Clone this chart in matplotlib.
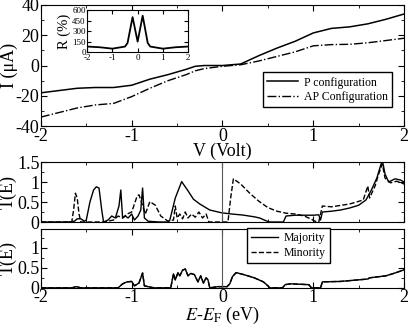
import numpy as np
import matplotlib.pyplot as plt
from matplotlib.ticker import MultipleLocator

plt.rcParams['font.family'] = ['Liberation Serif', 'DejaVu Serif']
plt.rcParams['mathtext.fontset'] = 'stix'
plt.rcParams['axes.unicode_minus'] = False

# I-V curves
V = [-2.0, -1.8, -1.6, -1.4, -1.2, -1.0, -0.8, -0.6, -0.4, -0.3, -0.2, 0.0,
     0.2, 0.4, 0.6, 0.8, 1.0, 1.2, 1.4, 1.6, 1.8, 2.0]
I_P = [-18, -16.5, -15, -14.5, -14.5, -13, -9, -6, -2.5, -0.5, 0, 0,
       1, 6.5, 11.5, 16, 21.5, 24.5, 25.5, 27.5, 30.5, 34]
I_AP = [-34, -31, -28, -26, -25, -20.5, -15, -10, -6, -3.5, -2, -0.5,
        0.5, 3, 6, 9, 13, 13.8, 14, 15, 16.5, 18]

# inset: magnetoresistance
V_R = [-2, -1.5, -1, -0.5, -0.4, -0.2, 0, 0.2, 0.4, 0.5, 1, 1.5, 2]
R = [80, 70, 50, 80, 130, 500, 150, 520, 130, 80, 50, 70, 80]

# middle panel: T(E), solid
E_mid1 = [-2.0, -1.7, -1.63, -1.6, -1.56, -1.52, -1.5, -1.46, -1.42, -1.39, -1.36, -1.33, -1.31,
          -1.26, -1.22, -1.18, -1.14, -1.12, -1.1, -1.07, -1.04, -1.0, -0.97, -0.93,
          -0.9, -0.88, -0.86, -0.82, -0.7, -0.6, -0.58, -0.52, -0.45, -0.38, -0.32,
          -0.25, -0.14, -0.01, 0.1, 0.22, 0.35, 0.41, 0.48, 0.52, 0.67, 0.7, 0.8,
          0.9, 1.0, 1.06, 1.08, 1.1, 1.2, 1.3, 1.4, 1.5, 1.58, 1.64, 1.7, 1.74,
          1.76, 1.79, 1.83, 1.9, 1.96, 2.0]
T_mid1 = [0, 0, 0.02, 0.08, 0.08, 0.02, 0.05, 0.5, 0.8, 0.88, 0.85, 0.3, 0,
          0.05, 0.15, 0.1, 0.4, 0.8, 0.1, 0.15, 0.1, 0.2, 0.05, 0.15,
          0.3, 0.85, 0.1, 0.02, 0, 0, 0.05, 0.6, 1.01, 0.78, 0.57,
          0.45, 0.3, 0.23, 0.2, 0.175, 0.13, 0.1, 0.03, 0, 0, 0.15, 0.17,
          0.17, 0.17, 0.18, 0.05, 0.25, 0.27, 0.3, 0.35, 0.42, 0.55, 0.8, 1.1, 1.4,
          1.55, 1.2, 1.0, 1.08, 1.05, 1.0]

# middle panel: T(E), dashed
E_mid2 = [-2.0, -1.66, -1.64, -1.62, -1.6, -1.58, -1.56, -1.5, -1.3, -1.2, -1.15, -1.1,
          -1.05, -1.0, -0.97, -0.94, -0.92, -0.9, -0.85, -0.8, -0.74, -0.68, -0.6,
          -0.54, -0.52, -0.5, -0.47, -0.44, -0.41, -0.38, -0.34, -0.3, -0.26, -0.22,
          -0.18, -0.15, 0.0, 0.06, 0.09, 0.12, 0.2, 0.3, 0.4, 0.5, 0.6, 0.7, 0.8,
          0.9, 0.97, 1.02, 1.06, 1.1, 1.2, 1.4, 1.55, 1.6, 1.62, 1.68, 1.72, 1.76,
          1.79, 1.85, 1.92, 2.0]
T_mid2 = [0, 0, 0.3, 0.72, 0.6, 0.2, 0, 0, 0, 0.05, 0.15, 0.1,
          0.2, 0.25, 0.45, 0.65, 0.68, 0.55, 0.2, 0.51, 0.42, 0.15, 0.02,
          0.05, 0.4, 0.1, 0.2, 0.08, 0.25, 0.1, 0.2, 0.12, 0.25, 0.1,
          0.2, 0, 0, 0, 0.6, 1.08, 0.95, 0.72, 0.52, 0.36, 0.27, 0.22, 0.2,
          0.15, 0.08, 0.02, 0, 0.4, 0.38, 0.45, 0.55, 0.9, 0.6, 0.9, 1.2, 1.45,
          1.1, 0.98, 1.02, 0.95]

# bottom panel: T(E)
E_bot = [-2.0, -1.66, -1.61, -1.56, -1.15, -1.1, -1.05, -1.0, -0.97, -0.92, -0.88, -0.86,
         -0.8, -0.75, -0.57, -0.54, -0.52, -0.49, -0.47, -0.44, -0.41, -0.38, -0.35,
         -0.31, -0.27, -0.24, -0.21, -0.18, -0.16, -0.14, -0.05, 0.05, 0.08, 0.11,
         0.15, 0.25, 0.35, 0.45, 0.5, 0.52, 0.66, 0.69, 0.75, 0.95, 0.98, 1.08,
         1.1, 1.3, 1.5, 1.6, 1.62, 1.8, 1.9, 2.0]
T_bot = [0, 0, 0.03, 0, 0, 0.1, 0.15, 0.16, 0.05, 0.12, 0.37, 0.05,
         0.02, 0, 0, 0.35, 0.2, 0.38, 0.3, 0.44, 0.47, 0.3, 0.36,
         0.33, 0.15, 0.3, 0.12, 0.25, 0.2, 0, 0.03, 0.03, 0.1, 0.28,
         0.38, 0.32, 0.25, 0.15, 0.05, 0, 0, 0.08, 0.1, 0.08, 0, 0,
         0.15, 0.16, 0.2, 0.22, 0.25, 0.3, 0.37, 0.45]

fig = plt.figure(figsize=(4.09, 3.26), dpi=100)
FS = 13

def style(ax):
    ax.tick_params(direction='in', top=True, right=True, labelsize=FS, length=4, pad=1)
    ax.tick_params(which='minor', direction='in', top=True, right=True, length=2)
    ax.set_xlim(-2, 2)
    ax.xaxis.set_major_locator(MultipleLocator(1))
    ax.xaxis.set_minor_locator(MultipleLocator(0.5))

ax1 = fig.add_axes([0.100, 0.613, 0.888, 0.372])
style(ax1)
ax1.plot(V, I_P, 'k-', lw=1.1, label='P configuration')
ax1.plot(V, I_AP, 'k-.', lw=1.0, label='AP Configuration')
ax1.set_ylim(-40, 40)
ax1.yaxis.set_major_locator(MultipleLocator(20))
ax1.yaxis.set_minor_locator(MultipleLocator(10))
ax1.set_xlabel('V (Volt)', fontsize=FS, labelpad=-1)
ax1.set_ylabel('I (μA)', fontsize=FS)
ax1.yaxis.set_label_coords(-0.064, 0.5)
ax1.legend(loc='lower right', bbox_to_anchor=(0.967, 0.157), borderaxespad=0,
           fontsize=8.5, frameon=True, fancybox=False, edgecolor='k', framealpha=1,
           handlelength=2.6, borderpad=0.35, labelspacing=0.2, handletextpad=0.5)

ins = fig.add_axes([0.213, 0.840, 0.247, 0.129])
ins.plot(V_R, R, 'k-', lw=1.3)
ins.set_xlim(-2, 2)
ins.set_ylim(0, 600)
ins.set_xticks([-2, -1, 0, 1, 2])
ins.set_yticks([0, 150, 300, 450, 600])
ins.tick_params(direction='in', top=True, right=True, labelsize=6.5, length=3, pad=1)
ins.set_ylabel('R (%)', fontsize=10.5, labelpad=1)

ax2 = fig.add_axes([0.100, 0.319, 0.888, 0.184])
style(ax2)
ax2.plot(E_mid1, T_mid1, 'k-', lw=1.0)
ax2.plot(E_mid2, T_mid2, 'k--', lw=1.0)
ax2.axvline(0, color='0.35', lw=0.8)
ax2.set_ylim(0, 1.5)
ax2.set_yticks([0, 0.5, 1, 1.5])
ax2.set_yticklabels(['0', '0.5', '1', '1.5'])
ax2.yaxis.set_minor_locator(MultipleLocator(0.25))
ax2.set_xticklabels([])
ax2.set_ylabel('T(E)', fontsize=FS)
ax2.yaxis.set_label_coords(-0.066, 0.5)

ax3 = fig.add_axes([0.100, 0.117, 0.888, 0.181])
style(ax3)
ax3.plot(E_bot, T_bot, 'k--', lw=1.0, label='Minority')
ax3.plot(E_bot, T_bot, 'k-', lw=1.0, label='Majority')
ax3.axvline(0, color='0.35', lw=0.8)
ax3.set_ylim(0, 1.47)
ax3.set_yticks([0, 0.5, 1])
ax3.set_yticklabels(['0', '0.5', '1'])
ax3.yaxis.set_minor_locator(MultipleLocator(0.25))
ax3.set_ylabel('T(E)', fontsize=FS)
ax3.yaxis.set_label_coords(-0.066, 0.5)
ax3.set_xlabel('$E$-$E_\\mathrm{F}$ (eV)', fontsize=FS, labelpad=-1)
h, l = ax3.get_legend_handles_labels()
ax3.legend(h[::-1], l[::-1], loc='upper left', bbox_to_anchor=(0.567, 1.02), borderaxespad=0,
           fontsize=8.5, frameon=True, fancybox=False, edgecolor='k', framealpha=1,
           handlelength=2.3, borderpad=0.35, labelspacing=0.25, handletextpad=0.5)

fig.savefig('out.png', dpi=100)
